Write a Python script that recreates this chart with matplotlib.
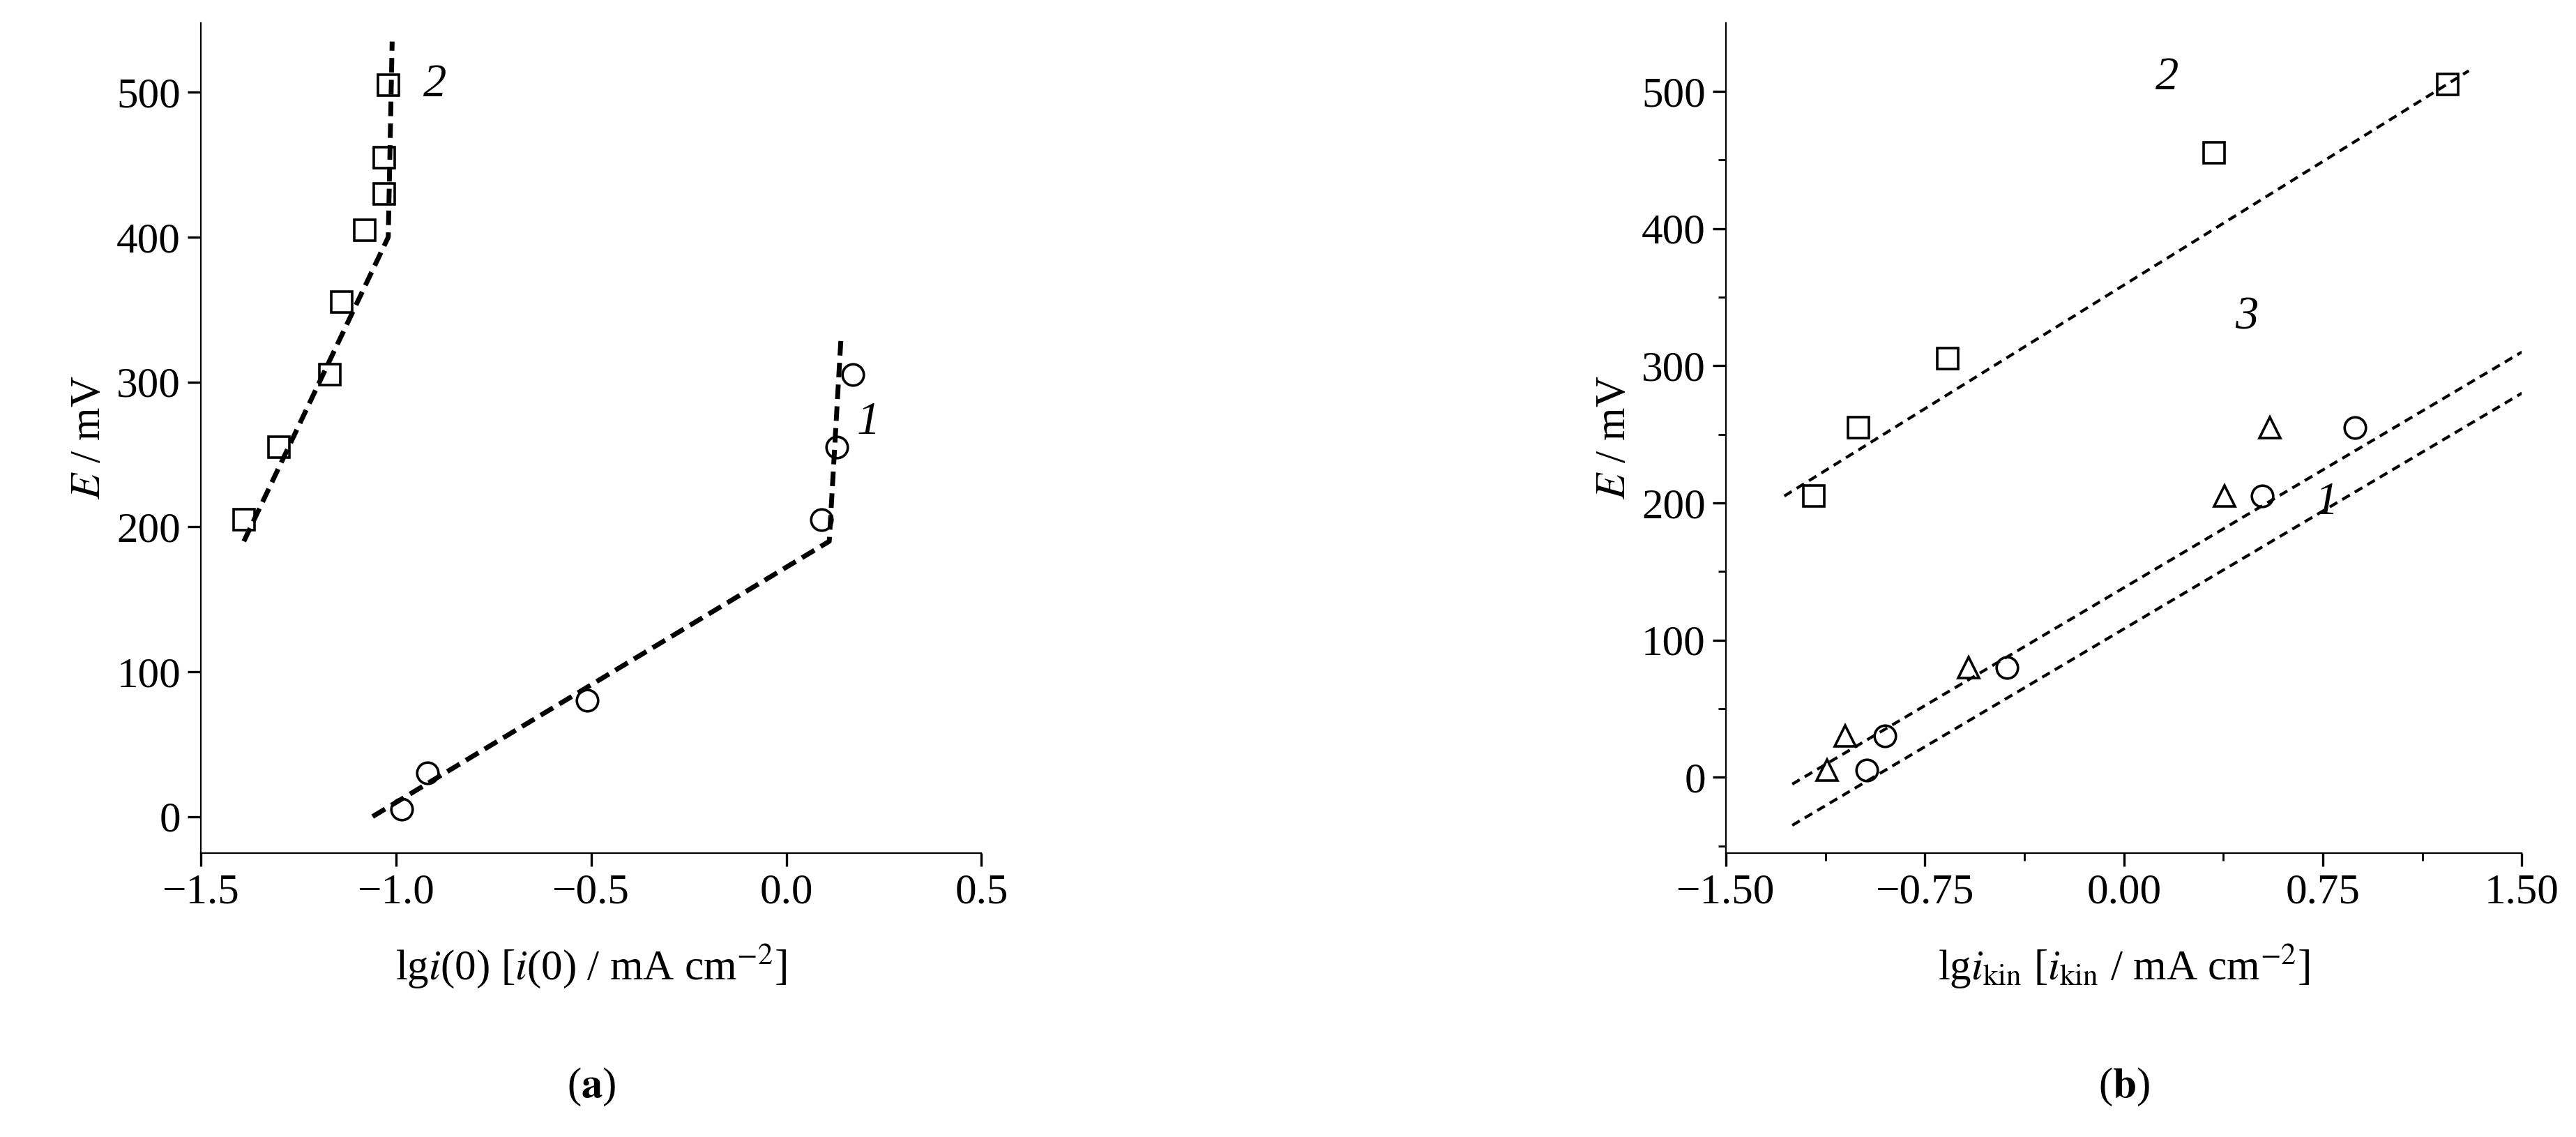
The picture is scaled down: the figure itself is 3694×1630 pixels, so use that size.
import matplotlib.pyplot as plt
import numpy as np

plt.rcParams['font.family'] = ['Liberation Serif', 'DejaVu Serif']
plt.rcParams['mathtext.fontset'] = 'stix'
plt.rcParams['font.size'] = 22

# panel (a)
a2_x = [-1.39, -1.30, -1.17, -1.14, -1.08, -1.03, -1.03, -1.02]
a2_E = [205, 255, 305, 355, 405, 430, 455, 505]
a2_fit_x = [-1.39, -1.02, -1.01]
a2_fit_E = [190, 400, 535]
a1_x = [-0.985, -0.92, -0.51, 0.09, 0.13, 0.17]
a1_E = [5, 30, 80, 205, 255, 305]
a1_fit_x = [-1.06, 0.11, 0.14]
a1_fit_E = [0, 190, 330]

# panel (b)
b2_x = [-1.17, -1.00, -0.665, 0.34, 1.22]
b2_E = [205, 255, 305, 455, 505]
b2_fit_x = [-1.28, 1.30]
b2_fit_E = [205, 515]
b3_x = [-1.12, -1.05, -0.585, 0.38, 0.55]
b3_E = [5, 30, 80, 205, 255]
b3_fit_x = [-1.25, 1.50]
b3_fit_E = [-5, 310]
b1_x = [-0.97, -0.90, -0.44, 0.52, 0.87]
b1_E = [5, 30, 80, 205, 255]
b1_fit_x = [-1.25, 1.50]
b1_fit_E = [-35, 280]

fig = plt.figure(figsize=(18.47, 8.15), dpi=200)
ax1 = fig.add_axes([0.078, 0.25, 0.303, 0.73])
ax2 = fig.add_axes([0.67, 0.25, 0.309, 0.73])

mk = dict(mfc='none', mec='black', ms=11, mew=1.3, ls='none')

ax1.plot(a2_fit_x, a2_fit_E, '--', color='black', lw=2.5, dashes=(3, 1.5))
ax1.plot(a1_fit_x, a1_fit_E, '--', color='black', lw=2.5, dashes=(3, 1.5))
ax1.plot(a2_x, a2_E, marker='s', **mk)
ax1.plot(a1_x, a1_E, marker='o', **mk)
ax1.set_xlim(-1.5, 0.5)
ax1.set_ylim(-25, 548)
ax1.set_xticks([-1.5, -1.0, -0.5, 0.0, 0.5])
ax1.set_xticklabels(['\u22121.5', '\u22121.0', '\u22120.5', '0.0', '0.5'])
ax1.set_yticks(np.arange(0, 501, 100))
ax1.set_xlabel('lg$\\it{i}$(0) [$\\it{i}$(0) / mA cm$^{-2}$]', labelpad=16)
ax1.set_ylabel('$\\it{E}$ / mV')
ax1.text(-0.93, 505, '2', style='italic', fontsize=24, va='center')
ax1.text(0.18, 272, '1', style='italic', fontsize=24, va='center')

ax2.plot(b2_fit_x, b2_fit_E, '--', color='black', lw=1.5, dashes=(3, 2))
ax2.plot(b3_fit_x, b3_fit_E, '--', color='black', lw=1.5, dashes=(3, 2))
ax2.plot(b1_fit_x, b1_fit_E, '--', color='black', lw=1.5, dashes=(3, 2))
ax2.plot(b2_x, b2_E, marker='s', **mk)
ax2.plot(b3_x, b3_E, marker='^', **mk)
ax2.plot(b1_x, b1_E, marker='o', **mk)
ax2.set_xlim(-1.5, 1.5)
ax2.set_ylim(-55, 550)
ax2.set_xticks([-1.5, -0.75, 0.0, 0.75, 1.5])
ax2.set_xticklabels(['\u22121.50', '\u22120.75', '0.00', '0.75', '1.50'])
ax2.set_yticks(np.arange(0, 501, 100))
ax2.set_yticks([-50, 50, 150, 250, 350, 450], minor=True)
ax2.set_xticks([-1.125, -0.375, 0.375, 1.125], minor=True)
ax2.set_xlabel('lg$\\it{i}_{\\rm kin}$ [$\\it{i}_{\\rm kin}$ / mA cm$^{-2}$]', labelpad=16)
ax2.set_ylabel('$\\it{E}$ / mV')
ax2.text(0.12, 510, '2', style='italic', fontsize=24, va='center')
ax2.text(0.42, 335, '3', style='italic', fontsize=24, va='center')
ax2.text(0.72, 200, '1', style='italic', fontsize=24, va='center')

for ax in (ax1, ax2):
    ax.spines['top'].set_visible(False)
    ax.spines['right'].set_visible(False)
    ax.tick_params(direction='out', length=7, width=1.2)
    ax.tick_params(which='minor', direction='out', length=4, width=1.0)

fig.text(0.2295, 0.035, '($\\bf{a}$)', ha='center', fontsize=22)
fig.text(0.8245, 0.035, '($\\bf{b}$)', ha='center', fontsize=22)

fig.savefig('out.png', dpi=200)
